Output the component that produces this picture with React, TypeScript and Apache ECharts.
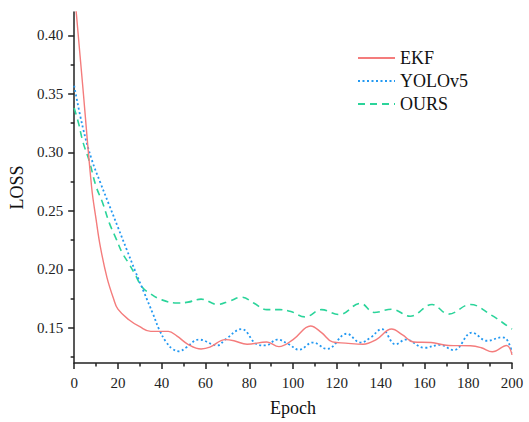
import React, { useEffect, useRef } from "react";
import * as echarts from "echarts";

const yMajorTicks = [0.15, 0.2, 0.25, 0.3, 0.35, 0.4];
const yMinorTicks = [0.125, 0.175, 0.225, 0.275, 0.325, 0.375];

const ekfEpochs = [0, 4, 8, 10, 12, 15, 18, 20, 25, 30, 35, 43, 47, 52, 58, 62, 69, 73, 79, 88, 93.5, 100, 108, 113, 118, 124, 132, 138, 145, 150, 155, 163, 171, 181, 186, 191, 197.5, 200];
const ekfLoss = [0.44, 0.355, 0.27, 0.243, 0.219, 0.193, 0.175, 0.166, 0.157, 0.151, 0.147, 0.147, 0.143, 0.136, 0.132, 0.1335, 0.14, 0.139, 0.136, 0.138, 0.134, 0.14, 0.1516, 0.146, 0.138, 0.137, 0.136, 0.14, 0.149, 0.144, 0.138, 0.1375, 0.135, 0.1347, 0.133, 0.1296, 0.135, 0.127];

const yoloEpochs = [0, 4, 8, 12, 16, 20, 24, 28, 32, 36, 39, 42, 45, 48, 51, 57, 65.5, 69, 76.5, 83.5, 87.5, 92.8, 98, 102.7, 109, 115.6, 124.5, 130.8, 135.4, 140.5, 146.8, 151.5, 160, 167, 173.5, 181.7, 188.6, 195.5, 198, 200];
const yoloLoss = [0.357, 0.321, 0.294, 0.274, 0.255, 0.236, 0.217, 0.198, 0.18, 0.162, 0.148, 0.138, 0.132, 0.13, 0.133, 0.14, 0.135, 0.14, 0.149, 0.136, 0.135, 0.14, 0.136, 0.1313, 0.1375, 0.132, 0.145, 0.1375, 0.1417, 0.149, 0.136, 0.14, 0.133, 0.1355, 0.131, 0.146, 0.139, 0.142, 0.139, 0.129];

const oursEpochs = [0, 2, 4, 7, 10, 13, 16, 19, 22, 25, 28, 31, 35, 40, 47, 52, 58, 65.5, 71, 76.5, 82, 88, 94, 99, 105.5, 113, 121, 130.8, 137, 145, 153.5, 163.5, 171, 181, 190.5, 198.4, 200];
const oursLoss = [0.338, 0.325, 0.309, 0.292, 0.271, 0.257, 0.24, 0.227, 0.214, 0.205, 0.195, 0.185, 0.179, 0.174, 0.1713, 0.172, 0.1746, 0.17, 0.173, 0.1763, 0.1713, 0.1656, 0.1656, 0.164, 0.1594, 0.1656, 0.1614, 0.171, 0.1632, 0.166, 0.16, 0.17, 0.1618, 0.17, 0.161, 0.151, 0.149];

const seriesNames = ["EKF", "YOLOv5", "OURS"];

const pair = (xs: number[], ys: number[]) => xs.map((x, i) => [x, ys[i]]);

const FONT = "'Liberation Serif', 'Times New Roman', serif";

export default function App() {
  const ref = useRef<HTMLDivElement>(null);
  useEffect(() => {
    const chart = echarts.init(ref.current!, null, { renderer: "svg" });
    const axisColor = "#222";
    chart.setOption({
      animation: false,
      backgroundColor: "#fff",
      textStyle: { fontFamily: FONT },
      grid: { left: 73, right: 17, top: 12, bottom: 56 },
      legend: {
        orient: "vertical",
        left: 357,
        top: 48,
        padding: 0,
        itemWidth: 37,
        itemHeight: 14,
        itemGap: 3,
        itemStyle: { opacity: 0 },
        textStyle: { fontFamily: FONT, fontSize: 18, color: "#111", lineHeight: 20 },
        data: seriesNames,
      },
      xAxis: {
        type: "value",
        min: 0,
        max: 200,
        interval: 20,
        name: "Epoch",
        nameLocation: "middle",
        nameGap: 36,
        nameTextStyle: { fontFamily: FONT, fontSize: 18, color: "#111" },
        axisLine: { show: true, onZero: false, lineStyle: { color: axisColor, width: 1.5 } },
        axisTick: { show: true, inside: false, length: 6, lineStyle: { color: axisColor, width: 1.5 } },
        minorTick: { show: true, splitNumber: 2, length: 3.5, lineStyle: { color: axisColor, width: 1.5 } },
        axisLabel: { fontFamily: FONT, fontSize: 15, color: "#222", margin: 12 },
        splitLine: { show: false },
        minorSplitLine: { show: false },
      },
      yAxis: [
        {
          type: "value",
          min: 0.12,
          max: 0.42,
          name: "LOSS",
          nameLocation: "middle",
          nameGap: 43,
          nameTextStyle: { fontFamily: FONT, fontSize: 18, color: "#111" },
          axisLine: { show: true, onZero: false, lineStyle: { color: axisColor, width: 1.5 } },
          axisTick: { show: true, inside: false, length: 6, customValues: yMajorTicks, lineStyle: { color: axisColor, width: 1.5 } },
          axisLabel: {
            fontFamily: FONT,
            fontSize: 15,
            color: "#222",
            margin: 11,
            customValues: yMajorTicks,
            formatter: (v: number) => v.toFixed(2),
          },
          splitLine: { show: false },
        },
        {
          type: "value",
          min: 0.12,
          max: 0.42,
          position: "left",
          axisLine: { show: false },
          axisTick: { show: true, inside: false, length: 3.5, customValues: yMinorTicks, lineStyle: { color: axisColor, width: 1.5 } },
          axisLabel: { show: false, customValues: yMinorTicks },
          splitLine: { show: false },
        },
      ],
      series: [
        {
          name: "EKF",
          type: "line",
          data: pair(ekfEpochs, ekfLoss),
          smooth: 0.4,
          symbol: "none",
          clip: true,
          lineStyle: { color: "#F47C7C", width: 1.4, type: "solid" },
          itemStyle: { color: "#F47C7C" },
          z: 3,
        },
        {
          name: "YOLOv5",
          type: "line",
          data: pair(yoloEpochs, yoloLoss),
          smooth: 0.4,
          symbol: "none",
          clip: true,
          lineStyle: { color: "#2399F2", width: 1.8, type: [2, 2.5] },
          itemStyle: { color: "#2399F2" },
          z: 2,
        },
        {
          name: "OURS",
          type: "line",
          data: pair(oursEpochs, oursLoss),
          smooth: 0.4,
          symbol: "none",
          clip: true,
          lineStyle: { color: "#2BD49A", width: 1.6, type: [7, 5] },
          itemStyle: { color: "#2BD49A" },
          z: 1,
        },
      ],
    });
    return () => chart.dispose();
  }, []);
  return (
    <div
      ref={ref}
      style={{ position: "fixed", left: 0, top: 0, width: 529, height: 422, background: "#fff" }}
    />
  );
}
